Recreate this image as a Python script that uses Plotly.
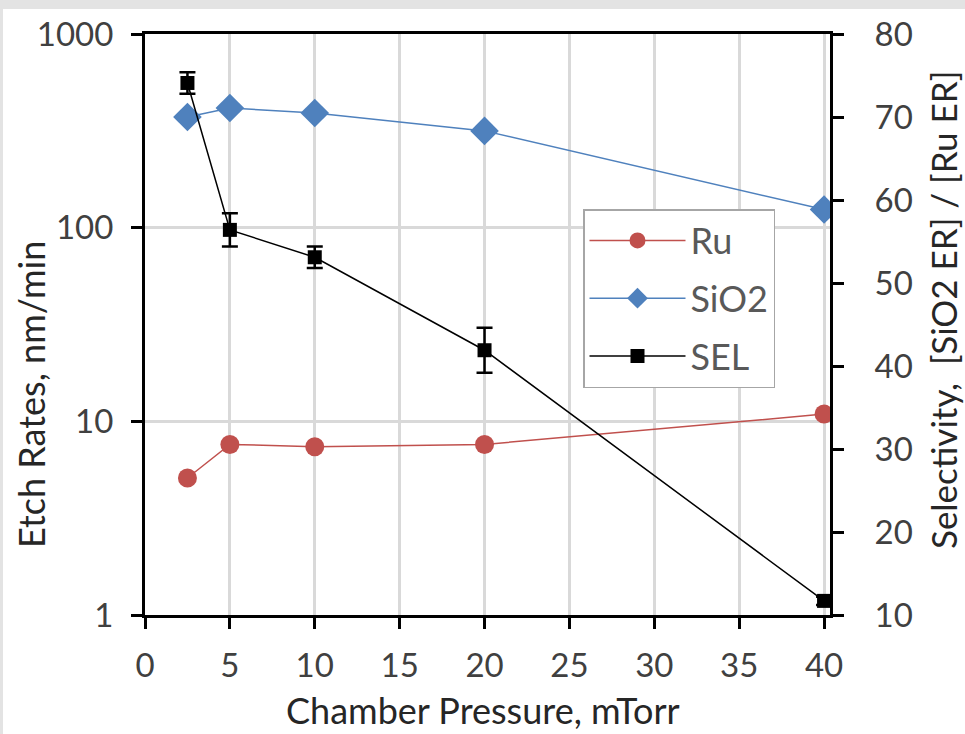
import plotly.graph_objects as go

# ---- data ----
pressure = [2.5, 5, 10, 20, 40]
ru_rate = [5.1, 7.6, 7.4, 7.6, 10.9]
sio2_rate = [373, 415, 391, 316, 124]
sel = [74.1, 56.4, 53.1, 41.9, 11.7]
sel_err = [1.3, 2.0, 1.3, 2.7, 0.5]

x_ticks = [0, 5, 10, 15, 20, 25, 30, 35, 40]
left_ticks = [1, 10, 100, 1000]
right_ticks = [10, 20, 30, 40, 50, 60, 70, 80]

W, H = 965, 734
L, R, T, B = 145, 135, 34, 119
pw, ph = W - L - R, H - T - B

def px(x):
    return (x - L) / pw

def py(y):
    return (H - B - y) / ph

FONT = "Lato"
TXT = "#404040"
TICK = 33
TITLE = 36

fig = go.Figure()
fig.add_trace(go.Scatter(
    x=pressure, y=ru_rate, name="Ru", mode="lines+markers", legendgroup="a",
    line=dict(color="#C0504D", width=1.5),
    marker=dict(symbol="circle", size=19, color="#C0504D"),
    yaxis="y"))
fig.add_trace(go.Scatter(
    x=pressure, y=sio2_rate, name="SiO2", mode="lines+markers", legendgroup="b",
    line=dict(color="#4F81BD", width=1.5),
    marker=dict(symbol="diamond", size=22, color="#4F81BD"),
    yaxis="y"))
fig.add_trace(go.Scatter(
    x=pressure, y=sel, name="SEL", mode="lines+markers", legendgroup="c",
    line=dict(color="#000000", width=1.5),
    marker=dict(symbol="square", size=14, color="#000000"),
    error_y=dict(type="data", array=sel_err, visible=True,
                 color="#000000", thickness=2.5, width=8),
    yaxis="y2"))

fig.update_layout(
    width=W, height=H,
    margin=dict(l=L, r=R, t=T, b=B),
    paper_bgcolor="white", plot_bgcolor="white",
    font=dict(family=FONT, size=TICK, color=TXT),
    showlegend=True,
    legend=dict(x=px(583), y=py(209), xanchor="left", yanchor="top",
                bgcolor="white", bordercolor="#a6a6a6", borderwidth=1.5,
                font=dict(family=FONT, size=TITLE, color="#595959"),
                itemwidth=96, tracegroupgap=8, itemsizing="trace",
                entrywidth=88, entrywidthmode="pixels"),
    xaxis=dict(range=[0, 40.35], tickvals=x_ticks,
               showgrid=True, gridcolor="#d9d9d9", gridwidth=3,
               showline=True, linecolor="black", linewidth=3, mirror=True,
               ticks="outside", ticklen=11, tickwidth=3, tickcolor="black",
               ticklabelstandoff=8,
               zeroline=False, tickfont=dict(size=TICK, color=TXT)),
    yaxis=dict(type="log", range=[0, 3], tickvals=left_ticks,
               ticktext=[str(v) for v in left_ticks],
               showgrid=True, gridcolor="#d9d9d9", gridwidth=3,
               showline=True, linecolor="black", linewidth=3,
               ticks="outside", ticklen=11, tickwidth=3, tickcolor="black",
               ticklabelstandoff=11,
               zeroline=False, tickfont=dict(size=TICK, color=TXT)),
    yaxis2=dict(overlaying="y", side="right", range=[10, 80],
                tickvals=right_ticks, showgrid=False,
                showline=True, linecolor="black", linewidth=3,
                ticks="outside", ticklen=11, tickwidth=3, tickcolor="black",
                ticklabelstandoff=24,
                zeroline=False, tickfont=dict(size=TICK, color=TXT)),
)

fig.add_annotation(text="Etch Rates, nm/min", xref="paper", yref="paper",
                   x=px(31), y=py(395), textangle=-90, showarrow=False,
                   xanchor="center", yanchor="middle",
                   font=dict(size=TITLE, color="#262626"))
fig.add_annotation(text="Selectivity,  [SiO2 ER] / [Ru ER]", xref="paper", yref="paper",
                   x=px(943), y=py(310), textangle=-90, showarrow=False,
                   xanchor="center", yanchor="middle",
                   font=dict(size=35, color="#262626"))
fig.add_annotation(text="Chamber Pressure, mTorr", xref="paper", yref="paper",
                   x=px(483), y=py(710), showarrow=False,
                   xanchor="center", yanchor="middle",
                   font=dict(size=TITLE, color="#262626"))

# outer frame strips
fig.add_shape(type="rect", xref="paper", yref="paper",
              x0=px(0), x1=px(W), y0=py(0), y1=py(9),
              fillcolor="#e3e3e3", line_width=0, layer="below")
fig.add_shape(type="rect", xref="paper", yref="paper",
              x0=px(0), x1=px(3), y0=py(0), y1=py(H),
              fillcolor="#e3e3e3", line_width=0, layer="below")

fig.write_html("out.html")
